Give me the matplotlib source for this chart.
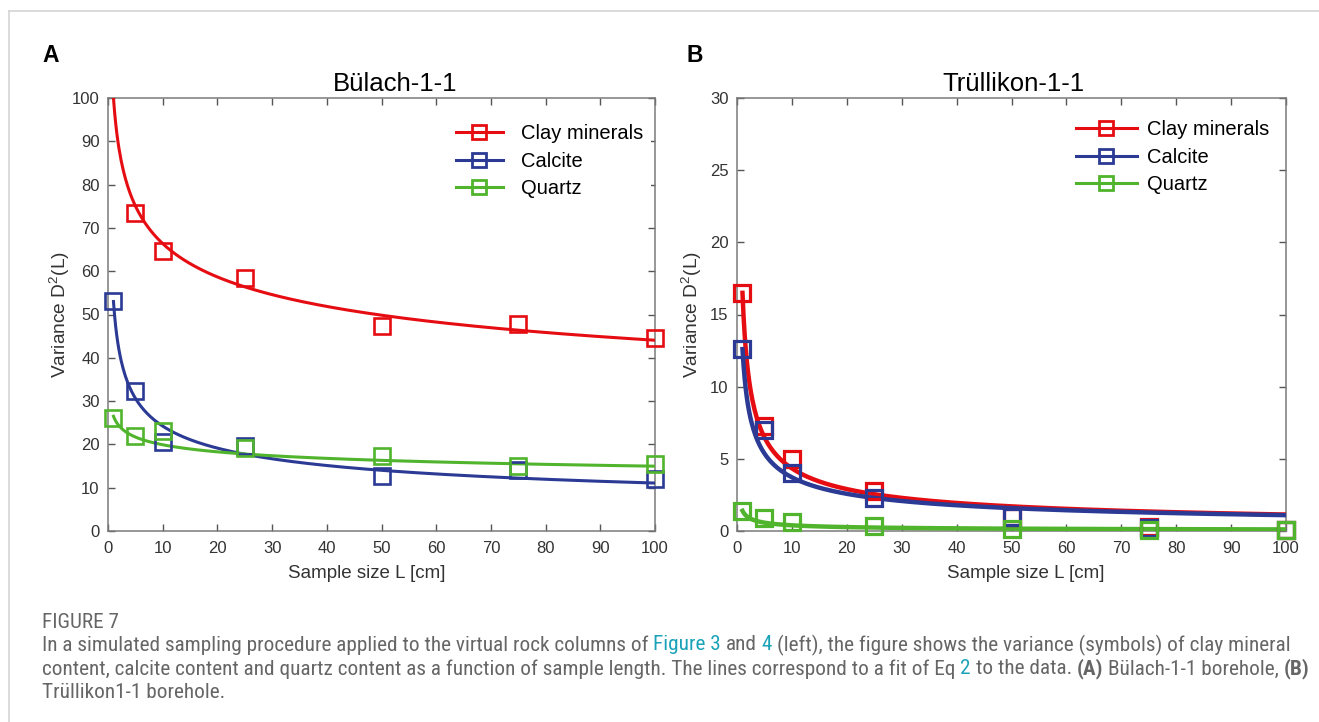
import numpy as np
import matplotlib
matplotlib.use("Agg")
import matplotlib.pyplot as plt
from matplotlib import font_manager
from matplotlib.lines import Line2D

# sample sizes [cm]
L_pts = [1, 5, 10, 25, 50, 75, 100]

# Bülach-1-1 variances (symbols)
bu_clay = [np.nan, 73.5, 64.7, 58.5, 47.3, 47.8, 44.5]
bu_calcite = [53.2, 32.3, 20.5, 19.7, 12.8, 14.2, 12.0]
bu_quartz = [26.0, 22.0, 23.0, 19.2, 17.4, 15.1, 15.5]

# Trüllikon-1-1 variances (symbols)
tr_clay = [16.5, 7.3, 5.0, 2.8, 1.0, 0.25, 0.1]
tr_calcite = [12.6, 7.0, 4.0, 2.3, 1.0, 0.2, 0.1]
tr_quartz = [1.4, 0.9, 0.6, 0.35, 0.12, 0.1, 0.05]

# fitted power law D2 = a * L^-b  (Eq 2)
bu_fit_a = [100.0, 53.0, 26.5]
bu_fit_b = [0.178, 0.34, 0.124]
tr_fit_a = [16.5, 12.6, 1.4]
tr_fit_b = [0.58, 0.53, 0.55]

names = ["Clay minerals", "Calcite", "Quartz"]
colors = ["#e60d12", "#2b3a94", "#50b42c"]

ax_font = "Liberation Sans"
avail = {f.name for f in font_manager.fontManager.ttflist}
cap_font = "DejaVu Sans"
for f in ["Liberation Sans Narrow", "Roboto Condensed", "Open Sans Condensed", "Noto Sans", "Lato"]:
    if f in avail:
        cap_font = f
        break

plt.rcParams["font.family"] = [ax_font, "DejaVu Sans"]
plt.rcParams["mathtext.default"] = "regular"

W, H = 1319, 722
fig = plt.figure(figsize=(W / 100, H / 100), dpi=100)


def px_axes(l, t, r, b):
    return fig.add_axes([l / W, 1 - b / H, (r - l) / W, (b - t) / H])


def style(ax, ymax, ystep, title, title_x, xlab_x):
    ax.set_xlim(0, 100)
    ax.set_ylim(0, ymax)
    ax.set_xticks(np.arange(0, 101, 10))
    ax.set_yticks(np.arange(0, ymax + 0.1, ystep))
    ax.tick_params(direction="in", top=True, right=True, length=5, width=1,
                   color="#555555", labelsize=12, labelcolor="#333333")
    ax.tick_params(axis="x", pad=7)
    ax.tick_params(axis="y", pad=6)
    for s in ax.spines.values():
        s.set_color("#7a7a7a")
        s.set_linewidth(1.1)
    ax.set_title(title, fontsize=18.5, pad=5, x=title_x)
    ax.set_xlabel("Sample size L [cm]", fontsize=13.5, color="#333333")
    ax.set_ylabel("Variance D$^2$(L)", fontsize=13.8, color="#333333")
    ax.xaxis.set_label_coords(xlab_x, -0.078)


def draw(ax, data, fa, fb, lw, mew):
    curve_L = np.linspace(1, 100, 500)
    for vals, a, b, c, n in zip(data, fa, fb, colors, names):
        ax.plot(curve_L, a * curve_L ** (-b), color=c, lw=lw, zorder=3)
        ax.plot(L_pts, vals, ls="none", marker="s", ms=11, mfc="none", mec=c,
                mew=mew, zorder=4, clip_on=False)
    handles = [Line2D([], [], color=c, lw=2.2, marker="s", ms=10, mfc="none",
                      mec=c, mew=2) for c in colors]
    return handles


axA = px_axes(108, 98, 655, 531)
style(axA, 100, 10, "Bülach-1-1", 0.525, 0.473)
hA = draw(axA, [bu_clay, bu_calcite, bu_quartz], bu_fit_a, bu_fit_b, 2.2, 1.9)
legA = axA.legend(hA, names, loc="upper left", bbox_to_anchor=(0.622, 0.958),
                  borderaxespad=0, fontsize=14.5, handlelength=2.3,
                  handletextpad=0.9, labelspacing=0.42, frameon=True,
                  framealpha=1, facecolor="white", edgecolor="none")
axA.yaxis.set_label_coords(-0.066, 0.5)

axB = px_axes(737, 98, 1286, 531)
style(axB, 30, 5, "Trüllikon-1-1", 0.503, 0.526)
hB = draw(axB, [tr_clay, tr_calcite, tr_quartz], tr_fit_a, tr_fit_b, 3.2, 2.3)
legB = axB.legend(hB, names, loc="upper left", bbox_to_anchor=(0.603, 0.967),
                  borderaxespad=0, fontsize=14.5, handlelength=3.0,
                  handletextpad=0.5, labelspacing=0.42, frameon=False)
axB.yaxis.set_label_coords(-0.06, 0.5)

fig.text(42 / W, 1 - 56 / H, "A", fontsize=16.5, fontweight="bold", va="center")
fig.text(686 / W, 1 - 56 / H, "B", fontsize=16.5, fontweight="bold", va="center")

# page frame lines
fig.add_artist(Line2D([9 / W, 9 / W], [0, 1 - 11 / H], color="#d4d4d4", lw=1.2))
fig.add_artist(Line2D([9 / W, 1], [1 - 11 / H, 1 - 11 / H], color="#d4d4d4", lw=1.2))

# caption
grey = "#666666"
teal = "#1aa3b8"
cap_lines = [
    [("In a simulated sampling procedure applied to the virtual rock columns of", grey, "normal"),
     (" ", None, None), ("Figure 3", teal, "normal"), (" ", None, None),
     ("and", grey, "normal"), (" ", None, None), ("4", teal, "normal"), (" ", None, None),
     ("(left), the figure shows the variance (symbols) of clay mineral", grey, "normal")],
    [("content, calcite content and quartz content as a function of sample length. The lines correspond to a fit of Eq", grey, "normal"),
     (" ", None, None), ("2", teal, "normal"), (" ", None, None),
     ("to the data.", grey, "normal"), (" ", None, None), ("(A)", grey, "bold"),
     (" ", None, None), ("Bülach-1-1 borehole,", grey, "normal"), (" ", None, None),
     ("(B)", grey, "bold")],
    [("Trüllikon1-1 borehole.", grey, "normal")],
]
cap_y = [645, 669, 692]

renderer = fig.canvas.get_renderer()


def text_w(s, size, weight="normal"):
    t = fig.text(0, 0, s, fontsize=size, family=cap_font, fontweight=weight)
    w = t.get_window_extent(renderer).width
    t.remove()
    return w


def line_width(pieces, size):
    sp = text_w("x x", size) - text_w("xx", size)
    return sum(sp if c is None else text_w(s, size, wt) for s, c, wt in pieces)


base = 11.5
size = base * (1289 - 42) / line_width(cap_lines[0], base)


def draw_line(pieces, x, y, size):
    sp = text_w("x x", size) - text_w("xx", size)
    for s, c, wt in pieces:
        if c is None:
            x += sp
            continue
        fig.text(x / W, 1 - y / H, s, fontsize=size, family=cap_font,
                 fontweight=wt, color=c, va="center")
        x += text_w(s, size, wt)


fig.text(42 / W, 1 - 622 / H, "FIGURE 7", fontsize=size, family=cap_font,
         color=grey, va="center")
for pieces, y in zip(cap_lines, cap_y):
    draw_line(pieces, 42, y, size)

fig.savefig("out.png", dpi=100)
